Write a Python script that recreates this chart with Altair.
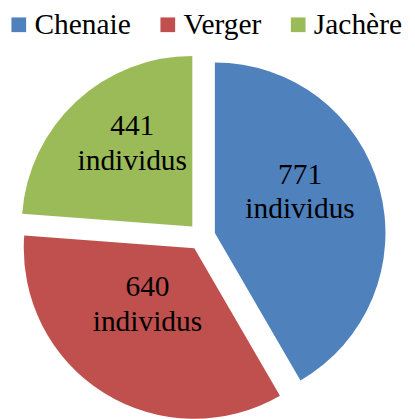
import altair as alt
import pandas as pd

categories = ["Chenaie", "Verger", "Jachère"]
counts = [771, 640, 441]
colors = ["#4F81BD", "#C0504D", "#9BBB59"]
unit_word = "individus"

df = pd.DataFrame({"cat": categories, "n": counts, "order": list(range(len(categories)))})

W, H = 407, 411
CX, CY = 197.5, 229.0
R = 174
EXPLODE = 14
LABEL_R = 90
SERIF = "'Liberation Serif', 'Times New Roman', 'DejaVu Serif', serif"

base = (
    alt.Chart(df)
    .transform_joinaggregate(total="sum(n)")
    .transform_window(cum="sum(n)", sort=[alt.SortField("order")], frame=[None, 0])
    .transform_calculate(a1="2*PI*(datum.cum - datum.n)/datum.total")
    .transform_calculate(a2="2*PI*datum.cum/datum.total")
    .transform_calculate(mid="(datum.a1 + datum.a2)/2")
    .transform_calculate(cx=f"{CX} + {EXPLODE}*sin(datum.mid)")
    .transform_calculate(cy=f"{CY} - {EXPLODE}*cos(datum.mid)")
    .transform_calculate(lx=f"datum.cx + {LABEL_R}*sin(datum.mid)")
    .transform_calculate(ly=f"datum.cy - {LABEL_R}*cos(datum.mid)")
    .transform_calculate(label=f"datum.n + '\\n' + '{unit_word}'")
)

arcs = base.mark_arc(outerRadius=R, stroke=None).encode(
    theta=alt.Theta("a1:Q", scale=None),
    theta2="a2:Q",
    x=alt.X("cx:Q", scale=None, axis=None),
    y=alt.Y("cy:Q", scale=None, axis=None),
    color=alt.Color(
        "cat:N",
        scale=alt.Scale(domain=categories, range=colors),
        sort=categories,
        legend=alt.Legend(
            title=None,
            orient="none",
            legendX=-4,
            legendY=-2,
            direction="horizontal",
            columns=3,
            symbolType="square",
            symbolSize=225,
            symbolStrokeWidth=0,
            labelFont=SERIF,
            labelFontSize=30,
            labelColor="black",
            labelOffset=1,
            labelLimit=0,
            columnPadding=22,
            padding=0,
        ),
    ),
)

texts = base.mark_text(
    font=SERIF,
    fontSize=30,
    lineBreak="\n",
    lineHeight=35,
    align="center",
    baseline="middle",
    color="black",
    dy=-36,
).encode(
    x=alt.X("lx:Q", scale=None, axis=None),
    y=alt.Y("ly:Q", scale=None, axis=None),
    text="label:N",
)

chart = (
    alt.layer(arcs, texts)
    .properties(width=W, height=H, autosize="none", padding=0)
    .configure_view(stroke=None)
    .configure_legend(labelFont=SERIF, labelFontSize=30)
)

chart.save("out.html", embed_options={"renderer": "svg", "actions": False})
